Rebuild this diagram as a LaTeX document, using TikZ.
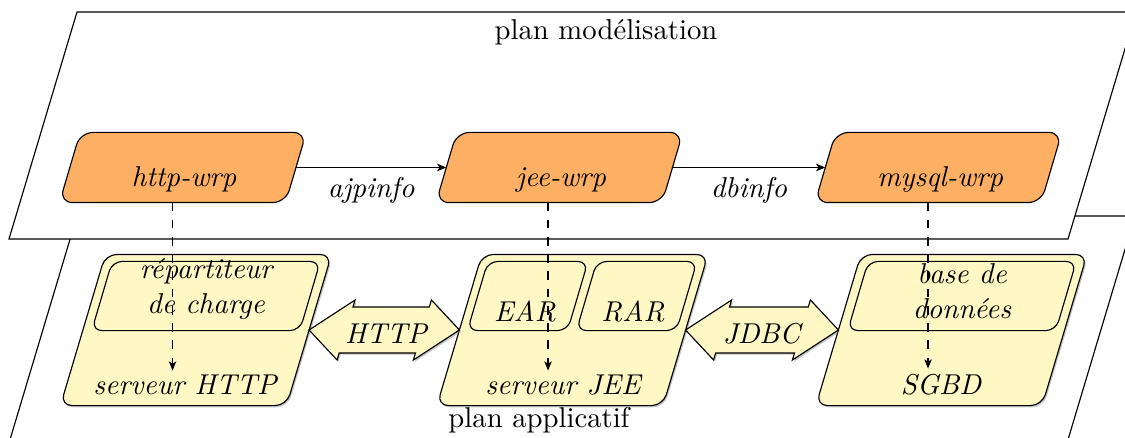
\documentclass[tikz,border=0pt]{standalone}
\usetikzlibrary{shadows,calc,arrows.meta}
\definecolor{orfill}{RGB}{253,176,99}
\definecolor{yefill}{RGB}{255,248,196}
% draw a slanted box around the (invisible) rectangle node #1, half slant #2 (px), style #3
\newcommand\mkslant[3]{%
  \draw[#3] ($(#1.south west)+(-#2,0)$) -- ($(#1.south east)+(-#2,0)$)
    -- ($(#1.north east)+(#2,0)$) -- ($(#1.north west)+(#2,0)$) -- cycle;}
\begin{document}
\begin{tikzpicture}[x=0.3484pt,y=-0.3484pt,
  body/.style={rectangle, inner sep=0pt, minimum width=78.4pt},
  wrp/.style={body, minimum height=24.04pt},
  srv/.style={body, minimum height=52.26pt},
  sub/.style={body, minimum height=23.7pt},
  wrpfill/.style={draw, fill=orfill, rounded corners=4.5pt},
  srvfill/.style={draw, fill=yefill, rounded corners=4pt,
    drop shadow={shadow xshift=0.5pt, shadow yshift=-0.6pt, opacity=0.45}},
  subfill/.style={draw, fill=yefill, rounded corners=3.5pt},
  lbl/.style={font=\itshape, anchor=base, inner sep=0pt},
  plane/.style={draw, fill=white},
  flow/.style={-{Stealth[length=3.2pt,width=2.6pt,inset=0.8pt]}},
  proj/.style={dashed, -{Stealth[length=3.2pt,width=2.6pt,inset=0.8pt]}},
  dbl/.style={draw, fill=yefill, drop shadow={shadow xshift=0.5pt, shadow yshift=-0.6pt, opacity=0.45}}
]
\useasboundingbox (0,0) rectangle (1125,438);
\clip (0,0) rectangle (1125,438);
% planes
\draw[plane] (77,216) -- (1135,216) -- (1067,443) -- (9,443) -- cycle;
\draw[plane] (77,12) -- (1136,12) -- (1068,239) -- (9,239) -- cycle;
\node[anchor=base] (tmod) at (606,40) {plan modélisation};
\node[anchor=base] (tapp) at (539,427) {plan applicatif};
% modelling nodes
\node[wrp] (httpw) at (182.9,167.5) {};
\node[wrp] (jeew) at (559.4,167.5) {};
\node[wrp] (mysqlw) at (938.4,167.5) {};
\mkslant{httpw}{10.35}{wrpfill}
\mkslant{jeew}{10.35}{wrpfill}
\mkslant{mysqlw}{10.35}{wrpfill}
\node[lbl] (thttpw) at (184,187) {http-wrp};
\node[lbl] (tjeew) at (561,187) {jee-wrp};
\node[lbl] (tmysqlw) at (940,187) {mysql-wrp};
\draw[flow] (httpw.east) -- node[below, font=\itshape] (tajp) {ajpinfo} (jeew.west);
\draw[flow] (jeew.east) -- node[below, font=\itshape] (tdb) {dbinfo} (mysqlw.west);
% application nodes
\node[srv] (srvhttp) at (196,330) {};
\node[srv] (srvjee) at (572.5,330) {};
\node[srv] (sgbd) at (951.5,330) {};
\mkslant{srvhttp}{22.5}{srvfill}
\mkslant{srvjee}{22.5}{srvfill}
\mkslant{sgbd}{22.5}{srvfill}
\node[sub, minimum width=72.1pt] (lb) at (206,296) {};
\node[sub, minimum width=34.5pt] (ear) at (527.7,296) {};
\node[sub, minimum width=34.5pt] (rar) at (636.7,296) {};
\node[sub, minimum width=72.1pt] (bdd) at (962,296) {};
\mkslant{lb}{10.2}{subfill}
\mkslant{ear}{10.2}{subfill}
\mkslant{rar}{10.2}{subfill}
\mkslant{bdd}{10.2}{subfill}
\node[lbl] (tlb1) at (206,278) {répartiteur};
\node[lbl] (tlb2) at (206,313) {de charge};
\node[lbl] (tbdd1) at (962,283) {base de};
\node[lbl] (tbdd2) at (962,318) {données};
\node[lbl] (tear) at (525,321) {EAR};
\node[lbl] (trar) at (633,321) {RAR};
\node[lbl] (tsrvhttp) at (185,394) {serveur HTTP};
\node[lbl] (tsrvjee) at (563,394) {serveur JEE};
\node[lbl] (tsgbd) at (941,394) {SGBD};
% double arrows
\path[dbl] (srvhttp.east) -- ($(srvhttp.east)+(46,-30)$) -- ($(srvhttp.east)+(43.9,-23)$)
  -- ($(srvjee.west)+(-30.1,-23)$) -- ($(srvjee.west)+(-28,-30)$) -- (srvjee.west)
  -- ($(srvjee.west)+(-46,30)$) -- ($(srvjee.west)+(-43.9,23)$)
  -- ($(srvhttp.east)+(30.1,23)$) -- ($(srvhttp.east)+(28,30)$) -- cycle;
\path[dbl] (srvjee.east) -- ($(srvjee.east)+(46,-30)$) -- ($(srvjee.east)+(43.9,-23)$)
  -- ($(sgbd.west)+(-30.1,-23)$) -- ($(sgbd.west)+(-28,-30)$) -- (sgbd.west)
  -- ($(sgbd.west)+(-46,30)$) -- ($(sgbd.west)+(-43.9,23)$)
  -- ($(srvjee.east)+(30.1,23)$) -- ($(srvjee.east)+(28,30)$) -- cycle;
\node[lbl] (thttp) at (386,343) {HTTP};
\node[lbl] (tjdbc) at (761.5,343) {JDBC};
% projections
\draw[proj] ($(httpw.south)+(-10.35,0)$) -- ($(httpw.south)+(-10.35,168)$);
\draw[proj] ($(jeew.south)+(-11.35,0)$) -- ($(jeew.south)+(-11.35,168)$);
\draw[proj] ($(mysqlw.south)+(-10.35,0)$) -- ($(mysqlw.south)+(-10.35,166)$);
\end{tikzpicture}
\end{document}
